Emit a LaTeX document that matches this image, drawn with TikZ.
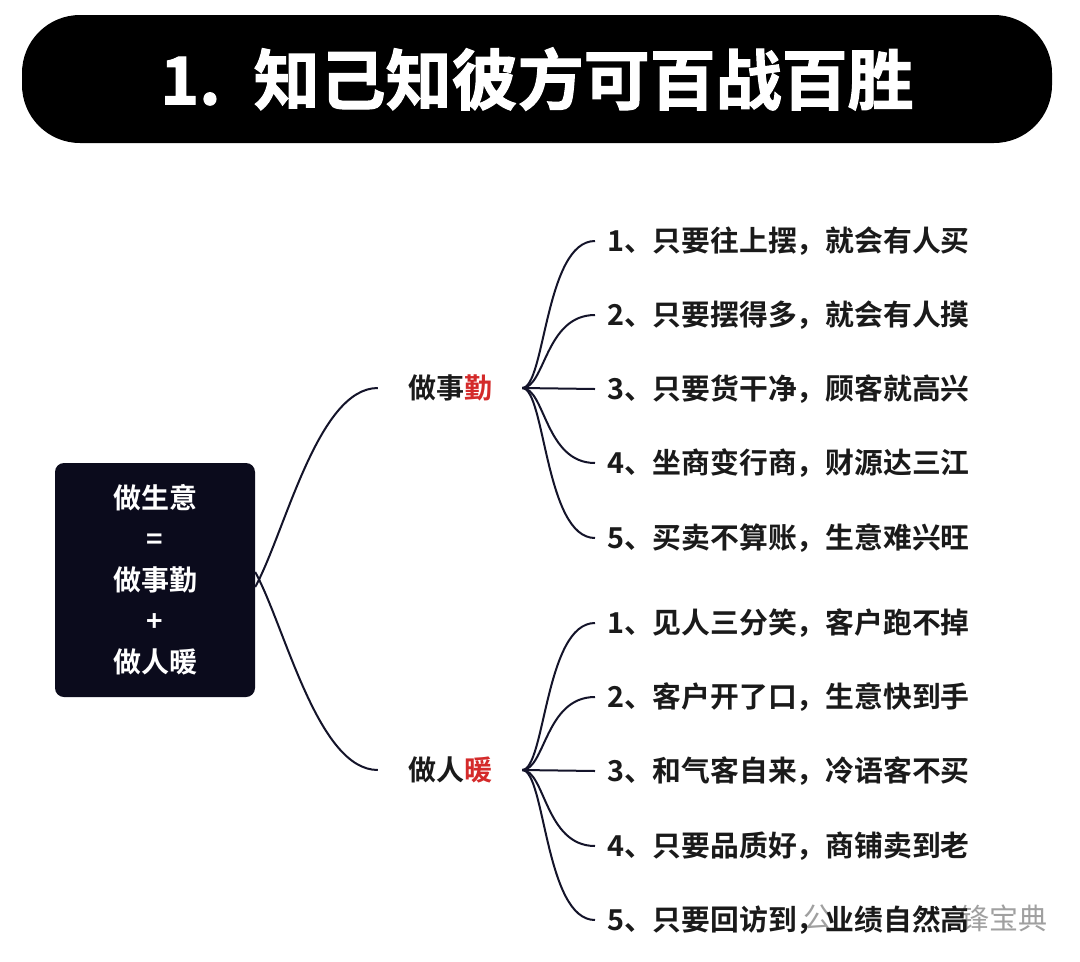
\documentclass[tikz,border=0pt]{standalone}
\usepackage{fontspec}
\newfontfamily\cjk{Noto Sans CJK SC}
\newfontfamily\cjkbold{Noto Sans CJK SC Bold}
\newfontfamily\cjktitle{Noto Sans CJK SC Bold}[FakeBold=1.6]
\definecolor{ink}{HTML}{1A1A1A}
\definecolor{rootfill}{HTML}{0B0B1C}
\definecolor{linec}{HTML}{14142A}
\definecolor{qred}{HTML}{D42A2A}
\definecolor{wm}{HTML}{A0A0A0}
\tikzset{
  titlebar/.style={fill=black, rounded corners=58pt, minimum width=1030pt, minimum height=128pt, inner sep=0pt, text=white, font=\cjktitle\fontsize{66}{70}\selectfont},
  rootbox/.style={fill=rootfill, rounded corners=9pt, minimum width=200pt, minimum height=234pt, inner sep=0pt, text=white, align=center, font=\cjkbold\fontsize{28}{41}\selectfont},
  branch/.style={inner xsep=30pt, inner ysep=4pt, text=ink, font=\cjkbold\fontsize{28}{34}\selectfont},
  leaf/.style={anchor=west, inner xsep=12pt, inner ysep=4pt, text=ink, font=\cjkbold\fontsize{28.8}{34}\selectfont},
  conn/.style={draw=linec, line width=2pt},
  wmark/.style={anchor=west, inner sep=0pt, text=wm, font=\cjk\fontsize{29}{32}\selectfont}
}
\begin{document}
\begin{tikzpicture}[x=1pt,y=-1pt]
\useasboundingbox (0,0) rectangle (1080,962);
\fill[white] (0,0) rectangle (1080,962);

% title
\node[titlebar] (title) at (537,79) {1.\hskip0.5em 知己知彼方可百战百胜};

% root
\node[rootbox] (root) at (155,580) {做生意\\=\\做事勤\\+\\做人暖};

% branches
\node[branch] (b1) at (450,388) {做事\textcolor{qred}{勤}};
\node[branch] (b2) at (450,770) {做人\textcolor{qred}{暖}};

\draw[conn] ([yshift=-7pt]root.east) .. controls +(30,-55) and +(-60,0) .. (b1.west);
\draw[conn] ([yshift=8pt]root.east) .. controls +(30,55) and +(-60,0) .. (b2.west);

% watermark (behind)
\node[wmark] (wm1) at (803,918) {公};
\node[wmark] (wm2) at (960,918) {锋宝典};

% leaves of branch 1
\node[leaf] (a1) at (595,241) {1、只要往上摆，就会有人买};
\node[leaf] (a2) at (595,315) {2、只要摆得多，就会有人摸};
\node[leaf] (a3) at (595,389) {3、只要货干净，顾客就高兴};
\node[leaf] (a4) at (595,463) {4、坐商变行商，财源达三江};
\node[leaf] (a5) at (595,538) {5、买卖不算账，生意难兴旺};

% leaves of branch 2
\node[leaf] (c1) at (595,623) {1、见人三分笑，客户跑不掉};
\node[leaf] (c2) at (595,697) {2、客户开了口，生意快到手};
\node[leaf] (c3) at (595,771) {3、和气客自来，冷语客不买};
\node[leaf] (c4) at (595,846) {4、只要品质好，商铺卖到老};
\node[leaf] (c5) at (595,920) {5、只要回访到，业绩自然高};

\foreach \n in {a1,a2,a4,a5}{
  \draw[conn] (b1.east) .. controls +(23,0) and +(-50,0) .. (\n.west);
}
\draw[conn] (b1.east) -- (a3.west);
\foreach \n in {c1,c2,c4,c5}{
  \draw[conn] (b2.east) .. controls +(23,0) and +(-50,0) .. (\n.west);
}
\draw[conn] (b2.east) -- (c3.west);
\end{tikzpicture}
\end{document}
